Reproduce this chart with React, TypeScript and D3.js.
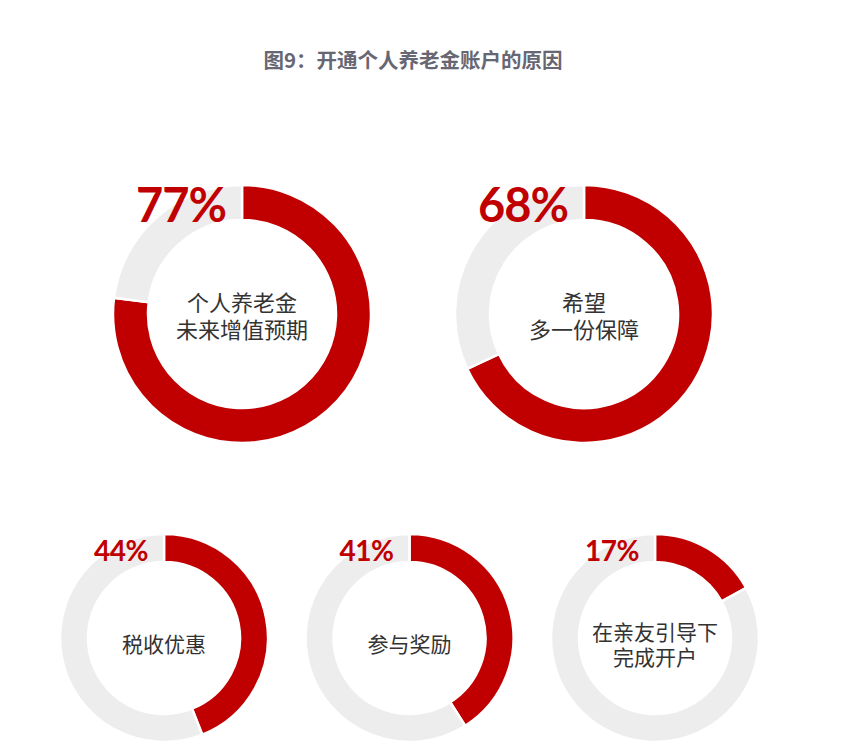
import React from "react";
import * as d3 from "d3";

const title = "图9：开通个人养老金账户的原因";
const labels = [
  ["个人养老金", "未来增值预期"],
  ["希望", "多一份保障"],
  ["税收优惠"],
  ["参与奖励"],
  ["在亲友引导下", "完成开户"],
];
const values = [77, 68, 44, 41, 17];

const W = 856;
const H = 752;
const RED = "#C00000";
const GREY = "#EDEDED";

type Layout = { cx: number; cy: number; r: number; inner: number; pctSize: number; labelSize: number; lh: number; off: number; pctDy: number };

function layoutFor(i: number): Layout {
  if (i < 2) {
    const x = d3.scalePoint<number>().domain([0, 1]).range([242, 584]);
    return { cx: x(i)!, cy: 314, r: 129, inner: 94, pctSize: 47, labelSize: 22, lh: 27, off: 0, pctDy: -92 };
  }
  const x = d3.scalePoint<number>().domain([2, 3, 4]).range([164, 655]);
  return { cx: x(i)!, cy: 638, r: 104, inner: 76, pctSize: 28, labelSize: 21, lh: 25, off: 5, pctDy: -77 };
}

function Donut({ i }: { i: number }) {
  const L = layoutFor(i);
  const v = values[i];
  const pie = d3.pie<number>().sort(null).value((d) => d);
  const arcs = pie([v, 100 - v]);
  const arc = d3.arc<d3.PieArcDatum<number>>().innerRadius(L.inner).outerRadius(L.r);
  const lines = labels[i];
  const n = lines.length;
  return (
    <g transform={`translate(${L.cx},${L.cy})`}>
      {arcs.map((a, k) => (
        <path key={k} d={arc(a) || ""} fill={k === 0 ? RED : GREY} stroke="#fff" strokeWidth={2.5} />
      ))}
      <text
        x={-16}
        y={L.pctDy}
        textAnchor="end"
        fill={RED}
        fontFamily="Lato, 'Open Sans', sans-serif"
        fontWeight={700}
        fontSize={L.pctSize}
        letterSpacing={i < 2 ? -1 : -0.5}
      >
        {v}%
      </text>
      <text
        textAnchor="middle"
        dominantBaseline="central"
        fill="#333"
        fontFamily="'Noto Sans CJK SC', sans-serif"
        fontSize={L.labelSize}
      >
        {lines.map((t, k) => (
          <tspan key={k} x={0} y={L.off + (k - (n - 1) / 2) * L.lh}>
            {t}
          </tspan>
        ))}
      </text>
    </g>
  );
}

export default function App() {
  return (
    <svg width={W} height={H} style={{ position: "absolute", left: 0, top: 0, background: "#fff" }}>
      <rect width={W} height={H} fill="#fff" />
      <text
        x={413}
        y={59}
        textAnchor="middle"
        dominantBaseline="central"
        fill="#676773"
        fontFamily="'Noto Sans CJK SC', sans-serif"
        fontWeight={700}
        fontSize={20.5}
      >
        {title}
      </text>
      {values.map((_, i) => (
        <Donut key={i} i={i} />
      ))}
    </svg>
  );
}
